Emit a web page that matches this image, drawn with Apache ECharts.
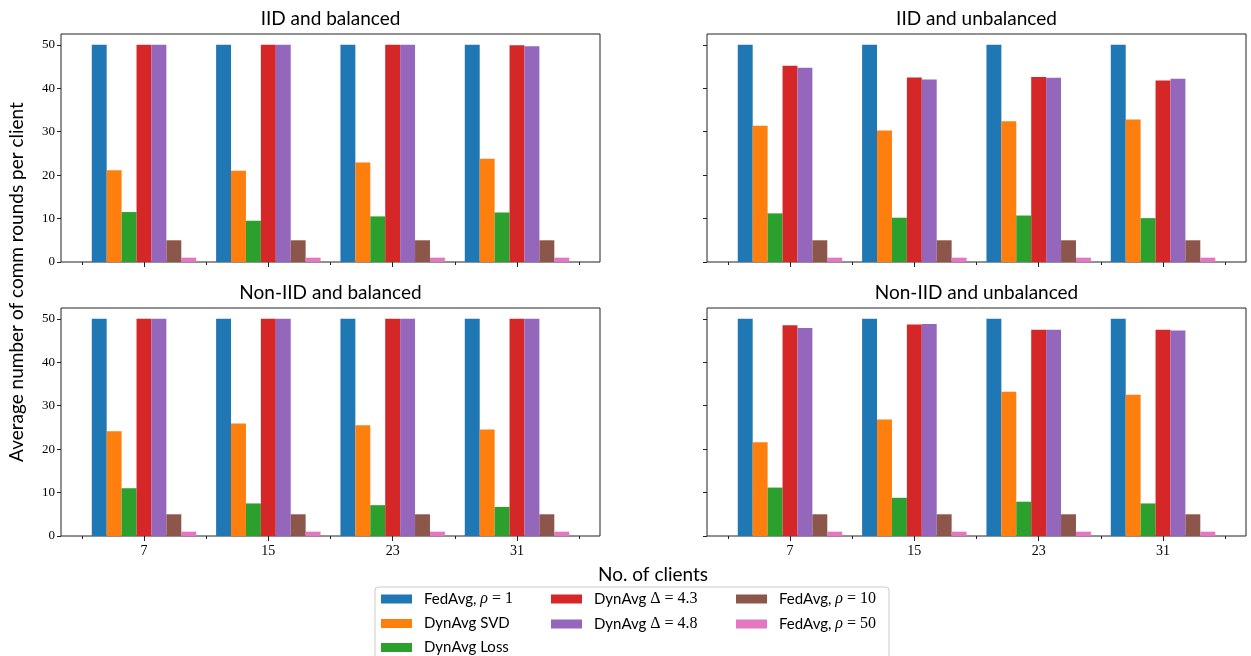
<!DOCTYPE html>
<html>
<head>
<meta charset="utf-8">
<script src="https://cdn.jsdelivr.net/npm/echarts@6/dist/echarts.min.js"></script>
<style>
  html, body { margin: 0; padding: 0; background: #fff; }
  #chart { width: 1251px; height: 656px; }
</style>
</head>
<body>
<div id="chart"></div>
<script>
// Number of clients on the x axis
const clients = [7, 15, 23, 31];
const yTicks = [0, 10, 20, 30, 40, 50];

const seriesNames = [
  'FedAvg, ρ = 1', 'DynAvg SVD', 'DynAvg Loss',
  'DynAvg Δ = 4.3', 'DynAvg Δ = 4.8', 'FedAvg, ρ = 10', 'FedAvg, ρ = 50'
];
const colors = ['#1f77b4', '#ff7f0e', '#2ca02c', '#d62728', '#9467bd', '#8c564b', '#e377c2'];

const panelTitles = ['IID and balanced', 'IID and unbalanced', 'Non-IID and balanced', 'Non-IID and unbalanced'];

// Average comm rounds per client, one row per method (order of seriesNames)
const iidBalanced = [
  [50, 50, 50, 50],
  [21.1, 21.0, 22.9, 23.8],
  [11.5, 9.5, 10.5, 11.4],
  [50, 50, 50, 49.9],
  [50, 50, 50, 49.7],
  [5, 5, 5, 5],
  [1, 1, 1, 1]
];
const iidUnbalanced = [
  [50, 50, 50, 50],
  [31.4, 30.3, 32.4, 32.8],
  [11.2, 10.2, 10.7, 10.1],
  [45.2, 42.5, 42.6, 41.8],
  [44.7, 42.0, 42.4, 42.2],
  [5, 5, 5, 5],
  [1, 1, 1, 1]
];
const nonIidBalanced = [
  [50, 50, 50, 50],
  [24.1, 25.9, 25.5, 24.5],
  [11.0, 7.5, 7.1, 6.7],
  [50, 50, 50, 50],
  [50, 50, 50, 50],
  [5, 5, 5, 5],
  [1, 1, 1, 1]
];
const nonIidUnbalanced = [
  [50, 50, 50, 50],
  [21.6, 26.8, 33.2, 32.5],
  [11.15, 8.8, 7.9, 7.5],
  [48.5, 48.7, 47.5, 47.5],
  [47.9, 48.8, 47.5, 47.3],
  [5, 5, 5, 5],
  [1, 1, 1, 1]
];
const panels = [iidBalanced, iidUnbalanced, nonIidBalanced, nonIidUnbalanced];

// ---- layout / style ----
const SANS = 'Lato';
const SERIF = 'Liberation Serif';
const LABEL_SIZE = 19;
const gridBoxes = [
  { left: 61, top: 34 }, { left: 707, top: 34 },
  { left: 61, top: 308 }, { left: 707, top: 308 }
];
const PW = 539, PH = 228;
const X_MIN = 1.66, X_MAX = 36.34, Y_MAX = 52.5;
const minorTicks = clients.map(c => c - 4).concat([clients[clients.length - 1] + 4]);

const grid = [], xAxis = [], yAxis = [], series = [], title = [];

panels.forEach((panel, p) => {
  const box = gridBoxes[p];
  const showX = p >= 2, showY = p % 2 === 0;
  grid.push({
    left: box.left, top: box.top, width: PW, height: PH,
    show: true, borderColor: '#222', borderWidth: 1, backgroundColor: 'transparent'
  });
  title.push({
    text: panelTitles[p], left: box.left + PW / 2, top: box.top - 25,
    textAlign: 'center', padding: 0,
    textStyle: { fontFamily: SANS, fontSize: LABEL_SIZE, fontWeight: 'normal', color: '#000' }
  });
  // major ticks + labels
  xAxis.push({
    type: 'value', gridIndex: p, min: X_MIN, max: X_MAX, position: 'bottom',
    axisLine: { show: false }, splitLine: { show: false },
    axisTick: { show: true, length: 5, customValues: clients, lineStyle: { color: '#222', width: 1 } },
    axisLabel: {
      show: showX, customValues: clients, margin: 8,
      fontFamily: SERIF, fontSize: 14, color: '#000'
    }
  });
  // minor ticks between groups
  xAxis.push({
    type: 'value', gridIndex: p, min: X_MIN, max: X_MAX, position: 'bottom', offset: 0,
    axisLine: { show: false }, splitLine: { show: false },
    axisTick: { show: true, length: 3, customValues: minorTicks, lineStyle: { color: '#222', width: 1 } },
    axisLabel: { show: false }
  });
  yAxis.push({
    type: 'value', gridIndex: p, min: 0, max: Y_MAX,
    axisLine: { show: false }, splitLine: { show: false },
    axisTick: { show: true, length: 4, customValues: yTicks, lineStyle: { color: '#222', width: 1 } },
    axisLabel: {
      show: showY, customValues: yTicks, margin: 6,
      fontFamily: SERIF, fontSize: 13, color: '#000'
    }
  });
  panel.forEach((vals, s) => {
    series.push({
      type: 'bar', name: seriesNames[s],
      xAxisIndex: p * 2, yAxisIndex: p,
      barWidth: '12%', barGap: '0%',
      itemStyle: { color: colors[s] },
      emphasis: { disabled: true },
      data: clients.map((c, i) => [c, vals[i]])
    });
  });
});

// legend names with math symbols rendered in a serif face
function legendText(name) {
  const k = name.search(/[ρΔ]/);
  if (k < 0) return name;
  const sym = name[k];
  return name.slice(0, k) + (sym === 'ρ' ? '{i|ρ}' : '{m|Δ}') + '{m|' + name.slice(k + 1) + '}';
}
const legendCols = [
  { names: seriesNames.slice(0, 3), left: 381 },
  { names: seriesNames.slice(3, 5), left: 551 },
  { names: seriesNames.slice(5, 7), left: 736 }
];
const legend = legendCols.map(col => ({
  data: col.names, left: col.left, top: 591, width: 180, height: 120, orient: 'vertical',
  padding: 0, itemGap: 9, itemWidth: 31, itemHeight: 9,
  icon: 'rect', selectedMode: false,
  formatter: legendText,
  textStyle: {
    fontFamily: SANS, fontSize: 15, color: '#000', lineHeight: 14, padding: [0, 0, 0, 7],
    rich: {
      i: { fontFamily: SERIF, fontStyle: 'italic', fontSize: 16, lineHeight: 14 },
      m: { fontFamily: SERIF, fontSize: 16, lineHeight: 14 }
    }
  }
}));

const chart = echarts.init(document.getElementById('chart'), null, { renderer: 'canvas' });
chart.setOption({
  animation: false,
  backgroundColor: '#fff',
  color: colors,
  title, grid, xAxis, yAxis, series, legend,
  graphic: [
    {
      type: 'rect', z: 0, silent: true,
      shape: { x: 375, y: 587, width: 514, height: 80, r: 3 },
      style: { fill: '#fff', stroke: '#cccccc', lineWidth: 1 }
    },
    {
      type: 'text', x: 17, y: 282, rotation: Math.PI / 2, silent: true,
      style: {
        text: 'Average number of comm rounds per client',
        font: LABEL_SIZE + 'px ' + SANS, fill: '#000',
        align: 'center', verticalAlign: 'middle', textAlign: 'center', textVerticalAlign: 'middle'
      }
    },
    {
      type: 'text', x: 653, y: 575, silent: true,
      style: {
        text: 'No. of clients', font: LABEL_SIZE + 'px ' + SANS, fill: '#000',
        align: 'center', verticalAlign: 'middle', textAlign: 'center', textVerticalAlign: 'middle'
      }
    }
  ]
});
</script>
</body>
</html>
